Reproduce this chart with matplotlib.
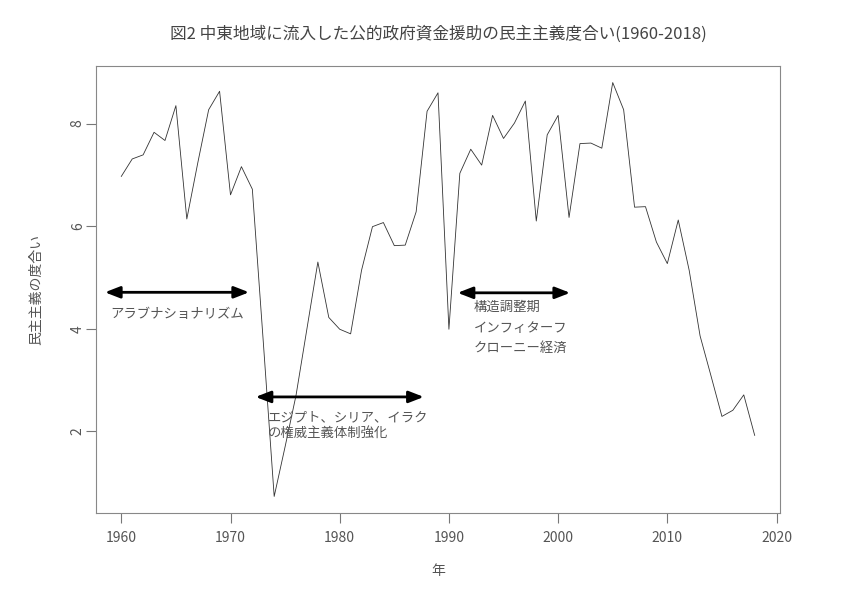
import numpy as np
import matplotlib
matplotlib.use("Agg")
import matplotlib.pyplot as plt

plt.rcParams['font.family'] = ['Noto Sans CJK JP', 'DejaVu Sans']

# democracy score of aid flowing into the Middle East
years = list(range(1960, 2019))
scores = [6.97, 7.31, 7.39, 7.83, 7.67, 8.35, 6.14, 7.23, 8.27, 8.63,
          6.61, 7.16, 6.72, 3.75, 0.73, 1.7, 2.7, 4.0, 5.30, 4.22,
          3.99, 3.90, 5.14, 5.99, 6.07, 5.62, 5.63, 6.28, 8.24, 8.60,
          3.99, 7.03, 7.50, 7.19, 8.16, 7.71, 8.01, 8.44, 6.10, 7.78,
          8.16, 6.17, 7.61, 7.62, 7.52, 8.80, 8.27, 6.37, 6.38, 5.69,
          5.27, 6.12, 5.14, 3.86, 3.08, 2.29, 2.41, 2.71, 1.92]

x_ticks = [1960, 1970, 1980, 1990, 2000, 2010, 2020]
y_ticks = [2, 4, 6, 8]

# periods: (start, end, height, label x, label top y, text, line spacing)
periods = [
    (1958.5, 1971.7, 4.71, 1959.0, 4.43, "アラブナショナリズム", 1.2),
    (1972.3, 1987.7, 2.67, 1973.4, 2.41, "エジプト、シリア、イラク\nの権威主義体制強化", 1.15),
    (1990.8, 2001.1, 4.70, 1992.3, 4.56, "構造調整期\nインフィターフ\nクローニー経済", 1.6),
]

txt = '#555555'
fig = plt.figure(figsize=(8.41, 5.94), dpi=100)
ax = fig.add_axes([0.1141, 0.1364, 0.8134, 0.7525])
ax.plot(years, scores, color='#333333', lw=0.6)
ax.margins(x=0.04, y=0.04)

for x0, x1, yy, tx, ty, label, ls in periods:
    ax.annotate('', xy=(x1, yy), xytext=(x0, yy),
                arrowprops=dict(arrowstyle='<|-|>,head_length=0.9,head_width=0.35',
                                color='black', lw=2, shrinkA=0, shrinkB=0))
    ax.text(tx, ty, label, color=txt, fontsize=9.6, va='top', ha='left',
            linespacing=ls)

ax.set_xticks(x_ticks)
ax.set_yticks(y_ticks)
ax.tick_params(direction='out', length=7, width=0.8, colors='#777777',
               labelcolor=txt, labelsize=10)
ax.tick_params(axis='x', pad=6)
ax.tick_params(axis='y', pad=1)
for lbl in ax.get_yticklabels():
    lbl.set_rotation(90)
    lbl.set_va('center')
for s in ax.spines.values():
    s.set_color('#888888')
    s.set_linewidth(0.8)

ax.set_xlabel('年', color=txt, fontsize=10, labelpad=14)
ax.set_ylabel('民主主義の度合い', color=txt, fontsize=10, labelpad=20)
fig.suptitle('図2 中東地域に流入した公的政府資金援助の民主主義度合い(1960-2018)',
             color='#444444', fontsize=12, x=0.521, y=0.958)

fig.savefig('out.png', dpi=100)
